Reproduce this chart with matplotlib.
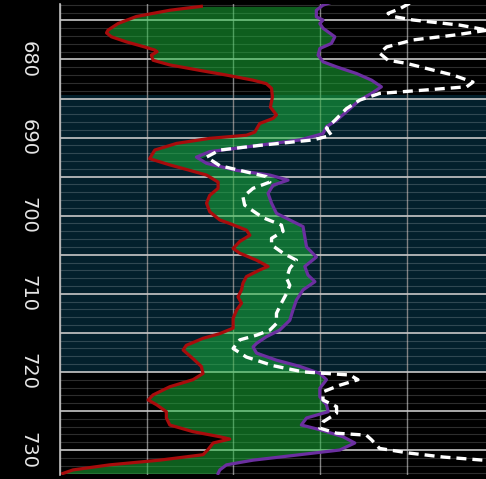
import numpy as np
import matplotlib.pyplot as plt
from matplotlib.ticker import MultipleLocator, FuncFormatter

# Left curve of the fill (red)
red_depth = [673.2, 673.7, 674.5, 675.4, 676.25, 676.6, 677.1, 677.75, 678.4, 678.8,
             679.0, 679.45, 680.1, 680.7, 681.4, 682.0, 682.65, 683.1, 683.7, 684.8,
             686.1, 687.1, 687.55, 688.2, 689.3, 689.7, 690.1, 690.75, 691.6, 692.7,
             693.5, 694.2, 694.8, 695.7, 696.5, 697.4, 698.4, 699.5, 700.55, 701.0,
             701.85, 702.5, 703.3, 704.2, 704.8, 705.7, 706.5, 706.95, 707.8, 708.65,
             709.5, 710.4, 711.2, 712.1, 713.15, 714.4, 715.1, 715.7, 716.6, 717.2,
             718.3, 719.3, 720.2, 721.0, 721.9, 722.95, 723.6, 724.2, 725.1, 725.9,
             726.8, 727.65, 728.3, 728.6, 729.1, 729.95, 730.6, 731.3, 731.9, 732.55,
             733.0]
red_val = [48.9, 38.0, 26.4, 20.1, 16.6, 16.1, 17.8, 23.0, 29.3, 32.8,
           33.6, 31.6, 32.2, 38.0, 48.4, 57.6, 66.8, 71.4, 73.2, 73.5,
           72.8, 74.9, 73.7, 69.1, 67.4, 64.5, 51.8, 40.3, 32.8, 31.0,
           38.0, 44.9, 50.7, 54.7, 54.7, 51.8, 50.7, 51.8, 55.3, 58.7,
           64.5, 65.7, 62.2, 59.9, 62.2, 68.0, 72.0, 69.1, 64.5, 63.3,
           62.8, 61.6, 62.8, 61.1, 59.9, 59.9, 55.3, 49.5, 43.7, 42.6,
           46.0, 48.9, 49.5, 46.0, 38.0, 32.2, 30.5, 33.4, 36.8, 36.8,
           38.0, 46.0, 55.3, 58.7, 53.0, 51.2, 49.5, 34.5, 17.2, 4.5,
           1.0]

# Right curve of the fill (purple)
purple_depth = [672.6, 673.05, 673.7, 674.55, 674.95, 675.4, 676.0, 677.1, 677.95, 678.6,
                679.45, 680.3, 680.95, 681.8, 682.65, 683.5, 684.35, 685.2, 686.3, 687.8,
                688.6, 689.5, 690.3, 691.2, 691.8, 692.5, 693.3, 694.2, 694.8, 695.45,
                696.1, 697.15, 698.4, 699.7, 700.55, 701.4, 702.7, 704.0, 705.3, 706.5,
                707.6, 708.45, 709.5, 710.8, 712.1, 713.4, 714.65, 715.5, 716.35, 716.8,
                717.6, 718.5, 719.3, 720.2, 721.0, 722.1, 723.2, 724.2, 725.1, 725.9,
                726.8, 727.4, 728.3, 729.1, 730.0, 730.6, 731.3, 731.9, 732.55, 733.0]
purple_val = [94.5, 91.0, 88.7, 88.7, 91.0, 89.9, 91.0, 95.1, 93.9, 89.9,
              89.3, 91.0, 95.7, 102.6, 107.8, 111.2, 107.8, 103.7, 100.3, 95.7,
              92.2, 91.0, 83.0, 64.5, 51.8, 47.2, 50.7, 61.1, 72.6, 78.9,
              73.7, 72.0, 73.2, 74.9, 79.5, 84.1, 84.7, 85.3, 88.7, 84.7,
              85.8, 88.2, 84.1, 81.8, 80.6, 79.5, 76.0, 71.4, 68.0, 66.8,
              68.0, 74.9, 83.0, 89.9, 92.2, 89.9, 89.9, 92.2, 92.8, 85.3,
              83.5, 89.9, 97.9, 102.0, 96.8, 83.0, 66.8, 57.6, 55.3, 54.7]

# Third log (white dashed)
white_depth = [672.8, 673.5, 674.1, 674.5, 674.95, 675.6, 676.25, 676.9, 677.5, 678.4,
               679.2, 680.1, 680.5, 681.15, 682.0, 682.9, 683.5, 683.9, 684.35, 685.2,
               686.3, 687.8, 688.8, 689.7, 690.3, 691.0, 691.6, 692.5, 693.6, 694.4,
               695.0, 695.7, 696.5, 697.6, 698.65, 699.7, 700.3, 701.2, 702.0, 702.9,
               703.75, 704.8, 705.7, 706.75, 708.0, 708.9, 709.95, 711.2, 712.5, 713.8,
               714.65, 715.3, 715.9, 717.0, 718.1, 719.2, 720.0, 720.2, 720.4, 721.0,
               721.7, 722.55, 723.6, 724.45, 725.3, 726.4, 727.2, 727.85, 728.1, 728.7,
               729.8, 730.4, 730.9, 731.3, 731.6]
white_val = [121.0, 117.6, 113.5, 115.3, 122.2, 138.3, 148.0, 136.0, 122.2, 113.0,
             110.6, 113.5, 119.9, 126.8, 136.0, 142.9, 140.7, 126.8, 110.6, 103.7,
             99.1, 95.1, 92.2, 93.9, 87.6, 69.1, 55.3, 50.7, 55.3, 64.5,
             71.4, 72.6, 66.8, 63.3, 63.9, 68.0, 70.5, 76.6, 77.2, 73.2,
             73.2, 77.2, 81.8, 79.5, 78.4, 79.5, 78.4, 76.6, 74.9, 74.9,
             72.6, 68.0, 62.2, 59.9, 64.5, 73.7, 84.1, 92.2, 100.3, 103.1,
             96.8, 91.0, 91.0, 95.7, 95.7, 91.0, 89.9, 95.7, 106.0, 107.8,
             110.6, 121.0, 132.6, 146.4, 152.0]

# Highlighted interval
zone_top, zone_base = 684.6, 720.0

fig = plt.figure(figsize=(4.86, 4.79), dpi=100, facecolor='black')
ax = fig.add_axes([60 / 486, 4 / 479, 1 - 60 / 486, 471 / 479])
ax.set_facecolor('black')

ax.axhspan(zone_top, zone_base, color='#03202c', zorder=0.2, lw=0)

ax.fill_betweenx(red_depth, red_val, np.interp(red_depth, purple_depth, purple_val),
                 color='#1cbc3c', alpha=0.5, lw=0, zorder=1)

ax.plot(red_val, red_depth, color='#a80c0c', lw=2.3, zorder=3)
ax.plot(purple_val, purple_depth, color='#6b2fa0', lw=2.3, zorder=3)
ax.plot(white_val, white_depth, color='white', lw=2.4, ls=(0, (3, 1.8)), zorder=4)

ax.set_xlim(0, 147.4)
ax.set_ylim(733.2, 672.9)

ax.xaxis.set_major_locator(MultipleLocator(30))
ax.yaxis.set_major_locator(MultipleLocator(5))
ax.yaxis.set_minor_locator(MultipleLocator(1))
ax.yaxis.set_major_formatter(FuncFormatter(lambda v, p: f"{v:.0f}" if round(v) % 10 == 0 else ""))

ax.set_axisbelow(True)
ax.grid(True, axis='y', which='major', color='#c8c8c8', lw=1.2)
ax.grid(True, axis='y', which='minor', color='white', alpha=0.18, lw=0.8)
ax.grid(True, axis='x', which='major', color='#808080', lw=1.0)

ax.tick_params(axis='x', length=0, labelbottom=False)
ax.tick_params(axis='y', which='both', length=0, pad=16, labelsize=14,
               labelcolor='#e6e6e6')
for lab in ax.get_yticklabels():
    lab.set_rotation(-90)
    lab.set_va('center')
    lab.set_ha('right')

for side in ['top', 'right', 'bottom']:
    ax.spines[side].set_visible(False)
ax.spines['left'].set_color('#c0c0c0')
ax.spines['left'].set_linewidth(1.2)

fig.savefig('out.png', dpi=100, facecolor='black')
